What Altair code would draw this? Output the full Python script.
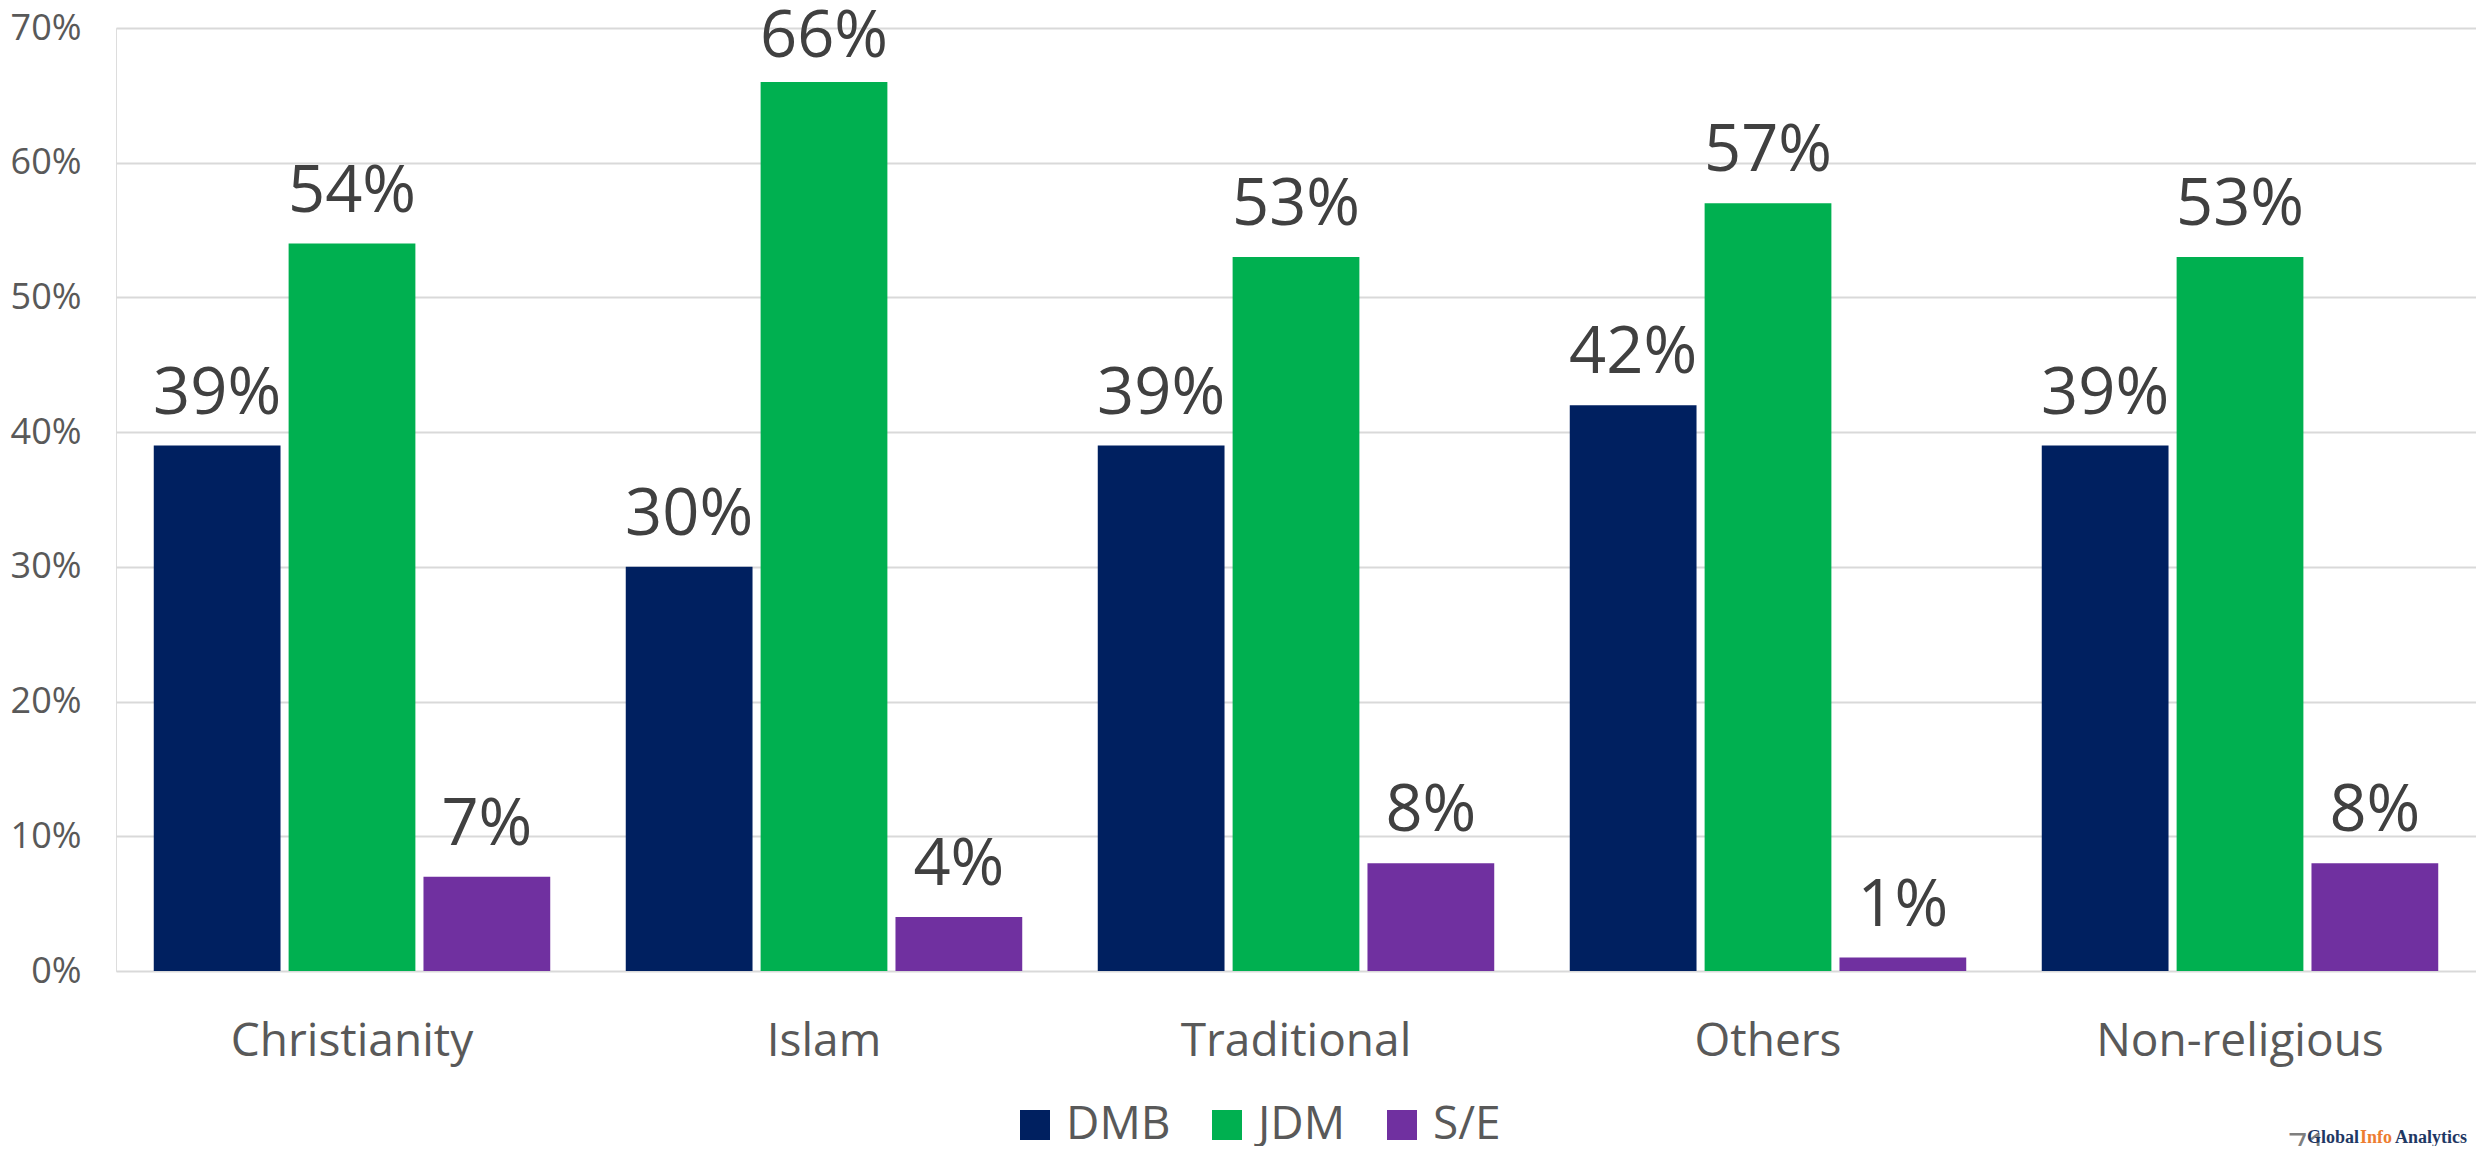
import altair as alt
import pandas as pd

categories = ["Christianity", "Islam", "Traditional", "Others", "Non-religious"]
parties = ["DMB", "JDM", "S/E"]
dmb = [39, 30, 39, 42, 39]
jdm = [54, 66, 53, 57, 53]
se = [7, 4, 8, 1, 8]
colors = ["#002060", "#00B050", "#7030A0"]
y_ticks = [0, 10, 20, 30, 40, 50, 60, 70]

rows = []
for i, c in enumerate(categories):
    for p, vals in zip(parties, [dmb, jdm, se]):
        rows.append({"religion": c, "party": p, "value": vals[i]})
df = pd.DataFrame(rows)

FONT = "Open Sans"

base = alt.Chart(df).encode(
    x=alt.X(
        "religion:N",
        sort=categories,
        scale=alt.Scale(paddingInner=0.16, paddingOuter=0.08),
        axis=alt.Axis(
            title=None, labelAngle=0, labelFontSize=46, labelColor="#595959",
            labelFont=FONT, ticks=False, domain=False, labelPadding=48,
            labelLimit=0,
        ),
    ),
    xOffset=alt.XOffset(
        "party:N", sort=parties, scale=alt.Scale(paddingInner=0.06, paddingOuter=0)
    ),
    y=alt.Y(
        "value:Q",
        scale=alt.Scale(domain=[0, 70]),
        axis=alt.Axis(
            title=None, values=y_ticks, labelExpr="datum.value + '%'",
            labelFontSize=36, labelColor="#595959", labelFont=FONT,
            gridColor="#d9d9d9", gridWidth=2, domain=False, ticks=False,
            labelPadding=35,
        ),
    ),
)

bars = base.mark_bar().encode(
    color=alt.Color(
        "party:N",
        sort=parties,
        scale=alt.Scale(domain=parties, range=colors),
        legend=alt.Legend(
            title=None, orient="none", direction="horizontal",
            legendX=896, legendY=1074, symbolType="square", symbolSize=900,
            symbolStrokeWidth=0, labelFontSize=46, labelColor="#595959",
            labelFont=FONT, labelOffset=8, columnPadding=33, padding=0,
        ),
    )
)

labels_low = base.mark_text(
    baseline="alphabetic", dy=-32, fontSize=65, color="#404040", font=FONT
).transform_filter("datum.value < 60").transform_calculate(
    label="datum.value + '%'"
).encode(text="label:N")

labels_high = base.mark_text(
    baseline="alphabetic", dy=-25, fontSize=65, color="#404040", font=FONT
).transform_filter("datum.value >= 60").transform_calculate(
    label="datum.value + '%'"
).encode(text="label:N")

page_no = alt.Chart(pd.DataFrame({"t": ["71"]})).mark_text(
    align="left", baseline="alphabetic", fontSize=34, color="#7f7f7f", font=FONT
).encode(x=alt.value(2172), y=alt.value(1130), text="t:N")

logo_parts = [("Global", "#1f3864", 2191), ("Info", "#ED7D31", 2244), ("Analytics", "#1f3864", 2279)]
logo_layers = []
for t, col, xv in logo_parts:
    logo_layers.append(
        alt.Chart(pd.DataFrame({"t": [t]})).mark_text(
            align="left", baseline="alphabetic", fontSize=18, fontWeight="bold",
            color=col, font="Liberation Serif"
        ).encode(x=alt.value(xv), y=alt.value(1115), text="t:N")
    )

chart = alt.layer(bars, labels_low, labels_high, page_no, *logo_layers).properties(
    width=2360,
    height=943,
    autosize=alt.AutoSizeParams(type="none"),
    padding={"left": 108, "top": 20, "right": 0, "bottom": 175},
).configure_view(stroke=None).configure(background="white")

chart.save("out.html", embed_options={"renderer": "svg", "actions": False})
